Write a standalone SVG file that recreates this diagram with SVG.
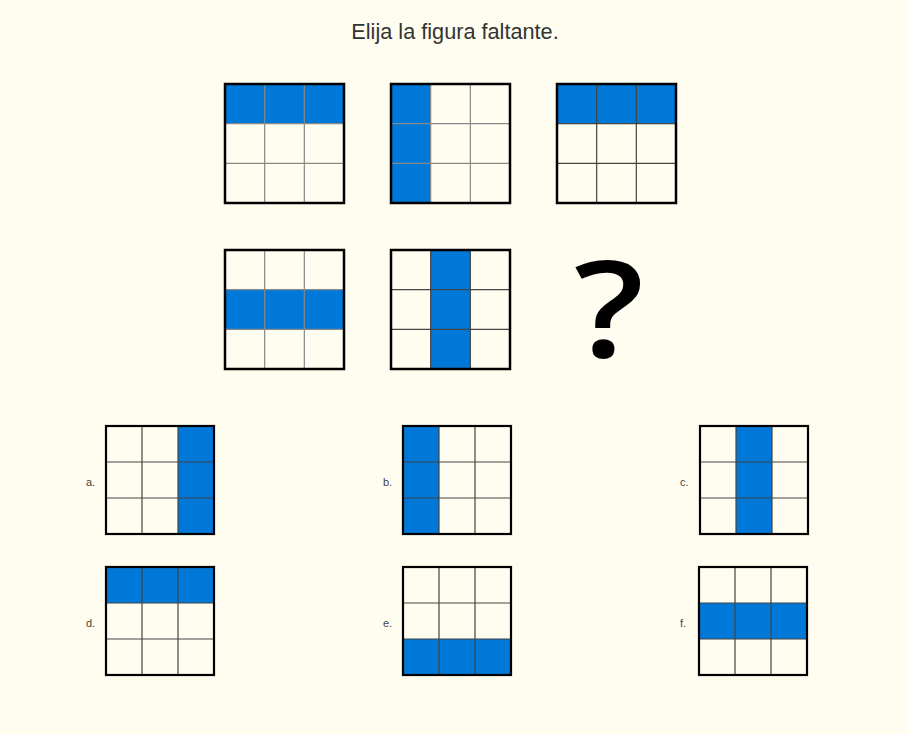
<svg xmlns="http://www.w3.org/2000/svg" width="909" height="734" viewBox="0 0 909 734">
<style>
.bg{fill:#fffdf0}
.blue{fill:#0078d7}
.in{stroke:#888;stroke-width:1.2;fill:none}
.ind{stroke:#444;stroke-width:1.2;fill:none}
.out{fill:none;stroke:#000;stroke-width:2.5}
.outs{fill:none;stroke:#000;stroke-width:2.2}
.title{font-family:"Liberation Sans",Arial,sans-serif;font-size:21.7px;fill:#333}
.lbl{font-family:"Liberation Sans",Arial,sans-serif;font-size:11px;fill:#444}
.q{font-family:"Open Sans","Liberation Sans",sans-serif;font-weight:600;font-size:134px;fill:#000}
</style>
<defs>
<g id="gridL">
<path class="in" d="M39.67 0V119M79.33 0V119M0 39.67H119M0 79.33H119"/>
</g>
<g id="gridLd">
<path class="ind" d="M39.67 0V119M79.33 0V119M0 39.67H119M0 79.33H119"/>
</g>
<g id="gridS">
<path class="ind" d="M36 0V108M72 0V108M0 36H108M0 72H108"/>
</g>
</defs>
<rect class="bg" x="0" y="0" width="909" height="734"/>
<text class="title" x="455" y="39" text-anchor="middle">Elija la figura faltante.</text>

<g id="fig1" transform="translate(225,84)">
<rect class="blue" x="0" y="0" width="119" height="39.67"/>
<use href="#gridL"/>
<rect class="out" x="0" y="0" width="119" height="119"/>
</g>
<g id="fig2" transform="translate(391,84)">
<rect class="blue" x="0" y="0" width="39.67" height="119"/>
<use href="#gridL"/>
<rect class="out" x="0" y="0" width="119" height="119"/>
</g>
<g id="fig3" transform="translate(557,84)">
<rect class="blue" x="0" y="0" width="119" height="39.67"/>
<use href="#gridLd"/>
<rect class="out" x="0" y="0" width="119" height="119"/>
</g>
<g id="fig4" transform="translate(225,250)">
<rect class="blue" x="0" y="39.67" width="119" height="39.67"/>
<use href="#gridL"/>
<rect class="out" x="0" y="0" width="119" height="119"/>
</g>
<g id="fig5" transform="translate(391,250)">
<rect class="blue" x="39.67" y="0" width="39.67" height="119"/>
<use href="#gridLd"/>
<rect class="out" x="0" y="0" width="119" height="119"/>
</g>
<g id="missing">
<text class="q" transform="translate(609,357) scale(1.15,1)" x="0" y="0" text-anchor="middle">?</text>
</g>

<g id="optA">
<text class="lbl" x="86" y="486">a.</text>
<g transform="translate(106,426)">
<rect class="blue" x="72" y="0" width="36" height="108"/>
<use href="#gridS"/>
<rect class="outs" x="0" y="0" width="108" height="108"/>
</g>
</g>
<g id="optB">
<text class="lbl" x="383" y="486">b.</text>
<g transform="translate(403,426)">
<rect class="blue" x="0" y="0" width="36" height="108"/>
<use href="#gridS"/>
<rect class="outs" x="0" y="0" width="108" height="108"/>
</g>
</g>
<g id="optC">
<text class="lbl" x="680" y="486">c.</text>
<g transform="translate(700,426)">
<rect class="blue" x="36" y="0" width="36" height="108"/>
<use href="#gridS"/>
<rect class="outs" x="0" y="0" width="108" height="108"/>
</g>
</g>
<g id="optD">
<text class="lbl" x="86" y="627">d.</text>
<g transform="translate(106,567)">
<rect class="blue" x="0" y="0" width="108" height="36"/>
<use href="#gridS"/>
<rect class="outs" x="0" y="0" width="108" height="108"/>
</g>
</g>
<g id="optE">
<text class="lbl" x="383" y="627">e.</text>
<g transform="translate(403,567)">
<rect class="blue" x="0" y="72" width="108" height="36"/>
<use href="#gridS"/>
<rect class="outs" x="0" y="0" width="108" height="108"/>
</g>
</g>
<g id="optF">
<text class="lbl" x="680" y="627">f.</text>
<g transform="translate(699,567)">
<rect class="blue" x="0" y="36" width="108" height="36"/>
<use href="#gridS"/>
<rect class="outs" x="0" y="0" width="108" height="108"/>
</g>
</g>
<g id="connectors"/>
</svg>
